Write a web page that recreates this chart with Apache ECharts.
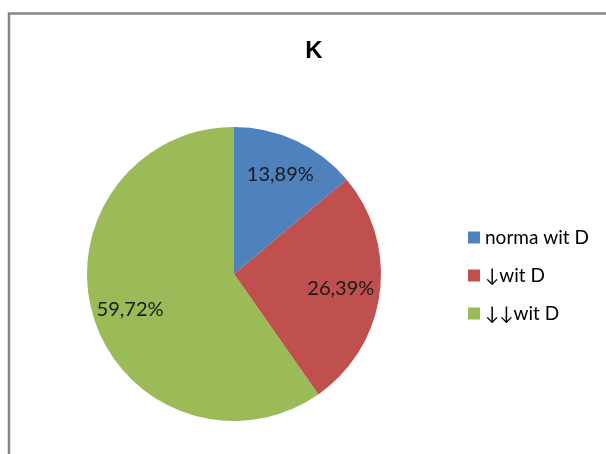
<!DOCTYPE html>
<html>
<head>
<meta charset="utf-8">
<style>
  html, body { margin: 0; padding: 0; background: #fff; }
  #chart { width: 606px; height: 454px; }
</style>
<script src="https://cdn.jsdelivr.net/npm/echarts@6/dist/echarts.min.js"></script>
</head>
<body>
<div id="chart"></div>
<script>
// Vitamin D status shares for potassium (K)
const titleText = 'K';
const categories = ['norma wit D', '\u2193wit D', '\u2193\u2193wit D'];
const shares = [13.89, 26.39, 59.72];
const sliceColors = ['#4F81BD', '#C0504D', '#9BBB59'];
// nudges of each percentage label from its default inside spot
const labelNudges = [[14, -30], [31, 5], [-31, 13]];

const fontFamily = 'Lato, "Open Sans", sans-serif';

const chart = echarts.init(document.getElementById('chart'), null, { renderer: 'canvas' });

chart.setOption({
  animation: false,
  backgroundColor: '#ffffff',
  title: {
    text: titleText,
    left: 309,
    top: 34,
    textAlign: 'center',
    textStyle: { fontFamily: 'Liberation Sans, sans-serif', fontWeight: 'bold', fontSize: 24, color: '#000' }
  },
  legend: {
    orient: 'vertical',
    left: 463,
    top: 223,
    itemWidth: 12,
    itemHeight: 12,
    itemGap: 19,
    icon: 'rect',
    textStyle: { fontFamily: fontFamily, fontSize: 19, color: '#000', padding: [0, 0, 0, 0] },
    data: categories
  },
  graphic: [
    {
      type: 'polyline',
      shape: { points: [[9, 454], [9, 13.5], [606, 13.5]] },
      style: { stroke: '#868686', lineWidth: 2.5, fill: null },
      silent: true
    }
  ],
  series: [{
    type: 'pie',
    center: [234, 274],
    radius: [0, 147],
    startAngle: 90,
    clockwise: true,
    avoidLabelOverlap: false,
    label: {
      show: true,
      position: 'inside',
      fontFamily: fontFamily,
      fontSize: 20,
      color: '#1a1a1a',
      formatter: p => p.value.toFixed(2).replace('.', ',') + '%'
    },
    labelLine: { show: false },
    emphasis: { disabled: true },
    data: categories.map((name, i) => ({
      name: name,
      value: shares[i],
      itemStyle: { color: sliceColors[i] },
      label: { offset: labelNudges[i] }
    }))
  }]
});
</script>
</body>
</html>
